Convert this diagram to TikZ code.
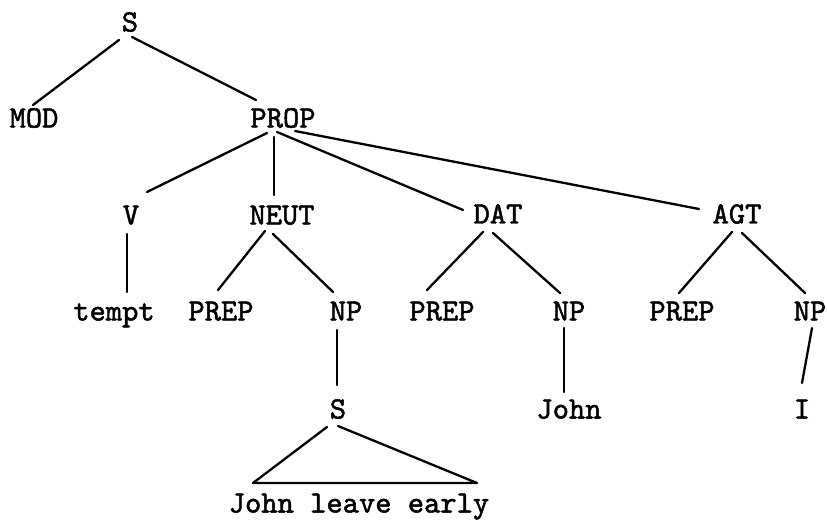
\documentclass[tikz,border=0pt]{standalone}
\usepackage{fontspec}
\usetikzlibrary{calc}
% typewriter face, slightly emboldened
\newfontfamily\twfont{lmmono10-regular.otf}[FakeBold=1.6]
\newcommand{\treefont}{\twfont\fontsize{31}{34}\selectfont}
\tikzset{
  lbl/.style={font=\treefont, inner sep=0pt,
              text height=19pt, text depth=0pt, anchor=center},
  branch/.style={line width=2.3pt, line cap=round, line join=round}
}
\begin{document}
\begin{tikzpicture}[x=1pt,y=-1pt]
\useasboundingbox (0,0) rectangle (827,521);
% categories
\node[lbl] (S0)    at (130,22)  {S};
\node[lbl] (MOD)   at (34,118)  {MOD};
\node[lbl] (PROP)  at (283,118) {PROP};
\node[lbl] (V)     at (131,215) {V};
\node[lbl] (NEUT)  at (282,215) {NEUT};
\node[lbl] (DAT)   at (498,214) {DAT};
\node[lbl] (AGT)   at (737,214) {AGT};
\node[lbl] (tempt) at (114,311) {tempt};
\node[lbl] (PREPa) at (221,311) {PREP};
\node[lbl] (NPa)   at (346,311) {NP};
\node[lbl] (PREPb) at (442,311) {PREP};
\node[lbl] (NPb)   at (569,311) {NP};
\node[lbl] (PREPc) at (682,311) {PREP};
\node[lbl] (NPc)   at (810,311) {NP};
\node[lbl] (S1)    at (338,409) {S};
\node[lbl] (John)  at (569,409) {John};
\node[lbl] (I)     at (802,409) {I};
\node[lbl] (phr)   at (359,503) {John leave early};
% branches
\draw[branch] ($(S0)+(-11,18)$)   -- ($(MOD)+(-1,-13)$);
\draw[branch] ($(S0)+(2,15)$)     -- ($(PROP)+(-27,-18)$);
\draw[branch] ($(PROP)+(-16,15)$) -- ($(V)+(16,-23)$);
\draw[branch] ($(PROP)+(-9,19)$)  -- ($(NEUT)+(-8,-20)$);
\draw[branch] ($(PROP)+(-6,14)$)  -- ($(DAT)+(-35,-4)$);
\draw[branch] ($(PROP)+(12,13)$)  -- ($(AGT)+(-38,-5)$);
\draw[branch] ($(V)+(-4,19)$)     -- ($(tempt)+(13,-19)$);
\draw[branch] ($(NEUT)+(-17,16)$) -- ($(PREPa)+(-3,-21)$);
\draw[branch] ($(NEUT)+(-9,19)$)  -- ($(NPa)+(-13,-19)$);
\draw[branch] ($(DAT)+(-15,18)$)  -- ($(PREPb)+(-15,-21)$);
\draw[branch] ($(DAT)+(-5,19)$)   -- ($(NPb)+(-9,-18)$);
\draw[branch] ($(AGT)+(-5,18)$)   -- ($(PREPc)+(-3,-18)$);
\draw[branch] ($(AGT)+(5,19)$)    -- ($(NPc)+(-5,-18)$);
\draw[branch] ($(NPa)+(-9,19)$)   -- ($(S1)+(-1,-24)$);
\draw[branch] ($(NPb)+(-5,17)$)   -- ($(John)+(-5,-17)$);
\draw[branch] ($(NPc)+(2,17)$)    -- ($(I)+(0,-26)$);
% triangle over the embedded sentence
\draw[branch] ($(S1)+(-11,18)$) -- ($(phr)+(-106,-20)$)
              -- ($(phr)+(118,-20)$) -- ($(S1)+(0,17)$);
\end{tikzpicture}
\end{document}
